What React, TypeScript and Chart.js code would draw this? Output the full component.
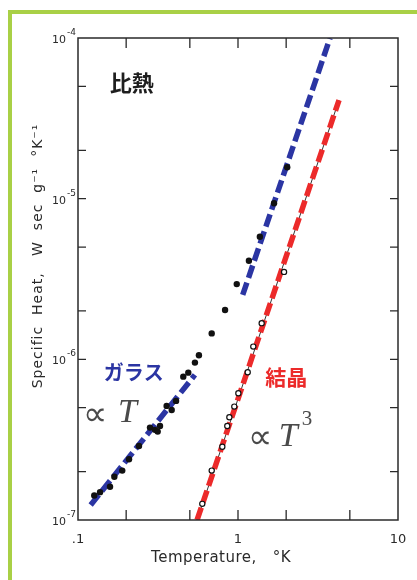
import React, { useEffect, useRef } from "react";
import { Chart, registerables } from "chart.js";
Chart.register(...registerables);

// Data (log-log)
const glassT = [0.1264, 0.1373, 0.1585, 0.1687, 0.189, 0.2084, 0.2405, 0.2818, 0.303, 0.3148, 0.3255, 0.358, 0.385, 0.41, 0.455, 0.489, 0.538, 0.57, 0.685, 0.83, 0.982, 1.17, 1.37, 1.68, 2.03];
const glassC = [1.42e-7, 1.49e-7, 1.61e-7, 1.86e-7, 2.03e-7, 2.39e-7, 2.89e-7, 3.76e-7, 3.64e-7, 3.55e-7, 3.85e-7, 5.13e-7, 4.84e-7, 5.51e-7, 7.8e-7, 8.26e-7, 9.54e-7, 1.06e-6, 1.45e-6, 2.03e-6, 2.94e-6, 4.11e-6, 5.8e-6, 9.36e-6, 1.57e-5];
const crystalT = [0.598, 0.685, 0.798, 0.857, 0.883, 0.948, 1.005, 1.15, 1.246, 1.406, 1.94];
const crystalC = [1.26e-7, 2.03e-7, 2.86e-7, 3.85e-7, 4.36e-7, 5.08e-7, 6.15e-7, 8.31e-7, 1.2e-6, 1.68e-6, 3.5e-6];
const glassFitLowT = [0.12, 0.538];
const glassFitLowC = [1.24e-7, 8.0e-7];
const glassFitHighT = [1.07, 3.76];
const glassFitHighC = [2.52e-6, 1.0e-4];
const crystalFitT = [0.555, 4.28];
const crystalFitC = [1.0e-7, 4.11e-5];

const xTickValues = [0.1, 0.2, 0.5, 1, 2, 5, 10];
const xTickLabels = [".1", "", "", "1", "", "", "10"];
const yTickValues = [1e-7, 2e-7, 5e-7, 1e-6, 2e-6, 5e-6, 1e-5, 2e-5, 5e-5, 1e-4];
const yTickBase = ["10", "", "", "10", "", "", "10", "", "", "10"];
const yTickExp = ["-7", "", "", "-6", "", "", "-5", "", "", "-4"];

const xTitle = "Temperature,   °K";
const yTitle = "Specific  Heat,   W  sec  g⁻¹  °K⁻¹";

const BLUE = "#2b35a3";
const RED = "#ec2a2a";
const INK = "#2a2a2a";

const pts = (xs: number[], ys: number[]) => xs.map((x, i) => ({ x, y: ys[i] }));

export default function App() {
  const ref = useRef<HTMLCanvasElement>(null);
  useEffect(() => {
    const canvas = ref.current!;
    const overlay = {
      id: "overlay",
      afterDatasetsDraw(chart: any) {
        const { ctx, chartArea: a, scales } = chart;
        const xs = scales.x, ys = scales.y;
        ctx.save();
        // frame
        ctx.strokeStyle = INK;
        ctx.lineWidth = 1.5;
        ctx.strokeRect(a.left, a.top, a.right - a.left, a.bottom - a.top);
        // inward ticks
        ctx.lineWidth = 1.3;
        xTickValues.slice(1, -1).forEach((v) => {
          const px = xs.getPixelForValue(v);
          ctx.beginPath();
          ctx.moveTo(px, a.bottom); ctx.lineTo(px, a.bottom - 10);
          ctx.moveTo(px, a.top); ctx.lineTo(px, a.top + 10);
          ctx.stroke();
        });
        yTickValues.slice(1, -1).forEach((v) => {
          const py = ys.getPixelForValue(v);
          ctx.beginPath();
          ctx.moveTo(a.left, py); ctx.lineTo(a.left + 8, py);
          ctx.moveTo(a.right, py); ctx.lineTo(a.right - 8, py);
          ctx.stroke();
        });
        // y tick labels with superscripts
        ctx.fillStyle = INK;
        ctx.textBaseline = "alphabetic";
        yTickValues.forEach((v, i) => {
          if (!yTickBase[i]) return;
          const py = ys.getPixelForValue(v);
          ctx.font = "9px 'DejaVu Sans'";
          ctx.textAlign = "right";
          const ew = ctx.measureText(yTickExp[i]).width;
          ctx.fillText(yTickExp[i], a.left - 2, py - 3);
          ctx.font = "11px 'DejaVu Sans'";
          ctx.fillText(yTickBase[i], a.left - 3 - ew, py + 5);
        });
        // annotations
        const X = (v: number) => xs.getPixelForValue(v);
        const Y = (v: number) => ys.getPixelForValue(v);
        ctx.textBaseline = "middle";
        ctx.textAlign = "left";
        ctx.fillStyle = "#1e1e1e";
        ctx.font = "bold 22px 'Noto Sans CJK JP'";
        ctx.fillText("比熱", X(0.158), Y(5.3e-5));
        ctx.fillStyle = BLUE;
        ctx.font = "bold 20px 'Noto Sans CJK JP'";
        ctx.fillText("ガラス", X(0.145), Y(8.3e-7));
        ctx.fillStyle = RED;
        ctx.font = "bold 21px 'Noto Sans CJK JP'";
        ctx.fillText("結晶", X(1.48), Y(7.8e-7));
        ctx.fillStyle = "#4a4a4a";
        ctx.font = "200 34px 'DejaVu Sans ExtraLight', 'DejaVu Sans'";
        ctx.fillText("∝", X(0.1075), Y(4.4e-7));
        ctx.fillText("∝", X(1.16), Y(3.2e-7));
        ctx.font = "italic 34px 'Liberation Serif'";
        ctx.fillText("T", X(0.178), Y(4.6e-7));
        const tx = X(1.8);
        ctx.fillText("T", tx, Y(3.3e-7));
        const tw = ctx.measureText("T").width;
        ctx.font = "21px 'Liberation Serif'";
        ctx.fillText("3", tx + tw + 4, Y(4.25e-7));
        // axis titles
        ctx.fillStyle = INK;
        ctx.textAlign = "center";
        ctx.font = "15px 'DejaVu Sans'";
        (ctx as any).letterSpacing = "0.5px";
        ctx.fillText(xTitle, 221, 558);
        ctx.save();
        ctx.translate(38, 256);
        ctx.rotate(-Math.PI / 2);
        ctx.font = "14px 'DejaVu Sans'";
        (ctx as any).letterSpacing = "1px";
        ctx.fillText(yTitle, 0, 0);
        ctx.restore();
        ctx.restore();
      },
    };
    const chart = new Chart(canvas, {
      type: "scatter",
      data: {
        datasets: [
          {
            label: "crystal",
            data: pts(crystalT, crystalC),
            pointRadius: 2.6,
            pointBackgroundColor: "#ffffff",
            pointBorderColor: "#111",
            pointBorderWidth: 1.2,
            showLine: false,
          },
          {
            label: "glass",
            data: pts(glassT, glassC),
            pointRadius: 3.2,
            pointBackgroundColor: "#111",
            pointBorderColor: "#111",
            pointBorderWidth: 0,
            showLine: false,
          },
          {
            label: "glassLow",
            data: pts(glassFitLowT, glassFitLowC),
            showLine: true,
            pointRadius: 0,
            borderColor: BLUE,
            borderWidth: 5.5,
            borderDash: [13, 5],
          },
          {
            label: "glassHigh",
            data: pts(glassFitHighT, glassFitHighC),
            showLine: true,
            pointRadius: 0,
            borderColor: BLUE,
            borderWidth: 5.5,
            borderDash: [13, 5],
          },
          {
            label: "crystalFit",
            data: pts(crystalFitT, crystalFitC),
            showLine: true,
            pointRadius: 0,
            borderColor: RED,
            borderWidth: 5.5,
            borderDash: [13, 5],
          },
          {
            label: "crystalFitThin",
            data: pts(crystalFitT, crystalFitC),
            showLine: true,
            pointRadius: 0,
            borderColor: "#333",
            borderWidth: 1,
          },
        ],
      },
      options: {
        responsive: false,
        animation: false,
        events: [],
        layout: { padding: { left: 0, top: 38, right: 19, bottom: 0 } },
        plugins: { legend: { display: false }, tooltip: { enabled: false } },
        scales: {
          x: {
            type: "logarithmic",
            min: 0.1,
            max: 10,
            grid: { display: false },
            border: { display: false },
            afterBuildTicks: (s: any) => { s.ticks = xTickValues.map((v) => ({ value: v })); },
            afterFit: (s: any) => { s.height = 60; },
            ticks: {
              autoSkip: false,
              maxRotation: 0,
              padding: 4,
              color: INK,
              font: { family: "DejaVu Sans", size: 13 },
              callback: (_v: any, i: number) => xTickLabels[i],
            },
          },
          y: {
            type: "logarithmic",
            min: 1e-7,
            max: 1e-4,
            grid: { display: false },
            border: { display: false },
            afterBuildTicks: (s: any) => { s.ticks = yTickValues.map((v) => ({ value: v })); },
            afterFit: (s: any) => { s.width = 78; },
            ticks: { display: false },
          },
        },
      },
      plugins: [overlay],
    } as any);
    return () => chart.destroy();
  }, []);
  return (
    <div style={{ position: "fixed", left: 0, top: 0, width: 417, height: 580, background: "#fff" }}>
      <div style={{ position: "absolute", left: 8, top: 10, width: 409, height: 570, borderLeft: "4px solid #a9d046", borderTop: "4px solid #a9d046", boxSizing: "border-box" }} />
      <canvas ref={ref} width={417} height={580} style={{ position: "absolute", left: 0, top: 0 }} />
    </div>
  );
}
